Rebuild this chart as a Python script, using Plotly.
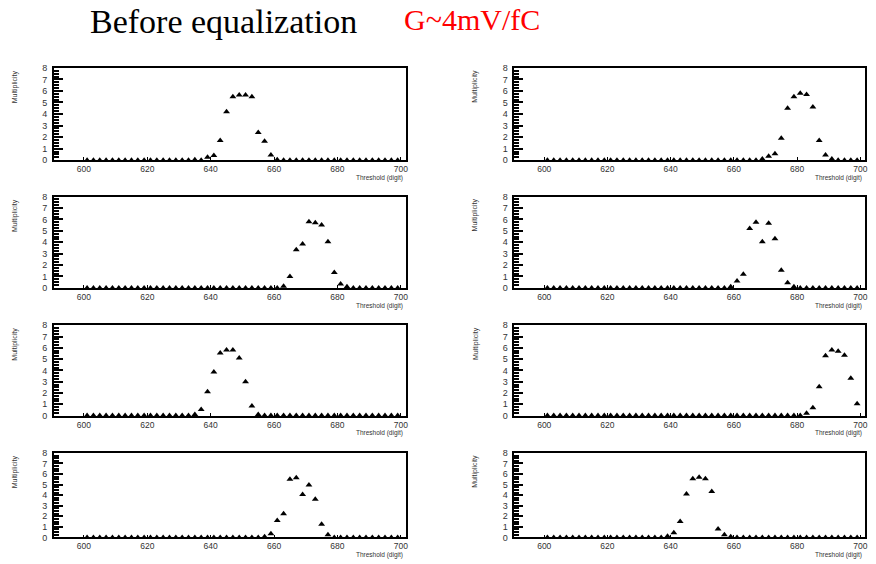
import plotly.graph_objects as go

# Threshold scan: multiplicity per threshold (digit) for eight channels
threshold_grid = list(range(601, 700, 2))

# Non-zero part of each scan: (first threshold, multiplicities); elsewhere multiplicity is 0
ch1_start, ch1_vals = 635, [0.05, 0.0, 0.25, 0.4, 1.7, 4.2, 5.5, 5.65, 5.65, 5.5, 2.4, 1.65, 0.45, 0.05]
ch2_start, ch2_vals = 669, [0.1, 0.35, 0.55, 1.9, 4.5, 5.5, 5.8, 5.7, 4.6, 1.7, 0.45, 0.1]
ch3_start, ch3_vals = 663, [0.15, 1.0, 3.35, 3.85, 5.8, 5.7, 5.5, 4.05, 1.35, 0.35, 0.1]
ch4_start, ch4_vals = 659, [0.1, 0.6, 1.2, 5.2, 5.75, 4.05, 5.65, 4.3, 1.55, 0.45, 0.1]
ch5_start, ch5_vals = 635, [0.1, 0.55, 2.1, 3.85, 5.55, 5.8, 5.8, 5.1, 3.0, 0.85, 0.1]
ch6_start, ch6_vals = 683, [0.2, 0.7, 2.55, 5.3, 5.8, 5.7, 5.35, 3.3, 1.05]
ch7_start, ch7_vals = 657, [0.05, 0.35, 1.6, 2.25, 5.5, 5.65, 4.05, 4.95, 3.6, 1.25, 0.25]
ch8_start, ch8_vals = 639, [0.1, 0.45, 1.5, 4.1, 5.55, 5.7, 5.55, 4.35, 0.8, 0.25, 0.05]

channels = [
    (ch1_start, ch1_vals), (ch2_start, ch2_vals),
    (ch3_start, ch3_vals), (ch4_start, ch4_vals),
    (ch5_start, ch5_vals), (ch6_start, ch6_vals),
    (ch7_start, ch7_vals), (ch8_start, ch8_vals),
]

x_ticks = [600, 620, 640, 660, 680, 700]
y_ticks = [0, 1, 2, 3, 4, 5, 6, 7, 8]

W, H = 876, 564
col_px = [(54, 407), (516, 868)]
row_px = [(64, 158), (195, 288), (326, 418), (456, 542)]


def full_scan(start, vals):
    lookup = {start + 2 * i: v for i, v in enumerate(vals)}
    return [lookup.get(t, 0.0) for t in threshold_grid]


fig = go.Figure()
annotations = []
sans = "Liberation Sans, Arial, sans-serif"

for idx, (start, vals) in enumerate(channels):
    r, c = divmod(idx, 2)
    n = idx + 1
    xa = "x" if n == 1 else f"x{n}"
    ya = "y" if n == 1 else f"y{n}"
    x0, x1 = col_px[c]
    top, bot = row_px[r]

    fig.add_trace(go.Scatter(
        x=threshold_grid, y=full_scan(start, vals), mode="markers",
        marker=dict(symbol="triangle-up", size=6, color="black"),
        xaxis=xa, yaxis=ya, showlegend=False, cliponaxis=False,
    ))

    axis_common = dict(showline=True, linecolor="black", linewidth=1.5, mirror=True,
                       showgrid=False, zeroline=False)
    fig.layout[f"xaxis{'' if n == 1 else n}"] = dict(
        domain=[x0 / W, x1 / W], anchor=ya, range=[590.5, 701.5],
        tickvals=x_ticks, ticks="inside", ticklen=3, tickcolor="black",
        tickfont=dict(family=sans, size=8.5, color="#333"),
        ticklabelstandoff=0, **axis_common)
    fig.layout[f"yaxis{'' if n == 1 else n}"] = dict(
        domain=[1 - bot / H, 1 - top / H], anchor=xa, range=[0, 8],
        tickvals=y_ticks, ticks="inside", ticklen=9, tickcolor="black", tickwidth=1.5,
        minor=dict(ticks="inside", ticklen=5, dtick=0.25, tickcolor="black"),
        tickfont=dict(family=sans, size=9, color="#333"),
        ticklabelstandoff=3, **axis_common)

    annotations.append(dict(
        text="Multiplicity", xref="paper", yref="paper",
        x=(x0 - 39) / W, y=1 - (top + 1) / H, xanchor="center", yanchor="top",
        textangle=-90, showarrow=False, borderpad=0,
        font=dict(family=sans, size=7, color="#333")))
    annotations.append(dict(
        text="Threshold (digit)", xref="paper", yref="paper",
        x=(x1 - 2) / W, y=1 - (bot + 13) / H, xanchor="right", yanchor="top",
        showarrow=False, borderpad=0,
        font=dict(family=sans, size=6.5, color="#333")))

annotations.append(dict(
    text="Before equalization", xref="paper", yref="paper",
    x=88 / W, y=1 + 4 / H, xanchor="left", yanchor="top", showarrow=False,
    font=dict(family="Liberation Serif, Times New Roman, serif", size=34, color="black")))
annotations.append(dict(
    text="G~4mV/fC", xref="paper", yref="paper",
    x=403 / W, y=1 + 4 / H, xanchor="left", yanchor="top", showarrow=False,
    font=dict(family="Liberation Serif, Times New Roman, serif", size=30, color="red")))

fig.update_layout(
    width=W, height=H, margin=dict(l=0, r=0, t=0, b=0),
    paper_bgcolor="white", plot_bgcolor="white",
    annotations=annotations,
)

fig.write_html("out.html")
